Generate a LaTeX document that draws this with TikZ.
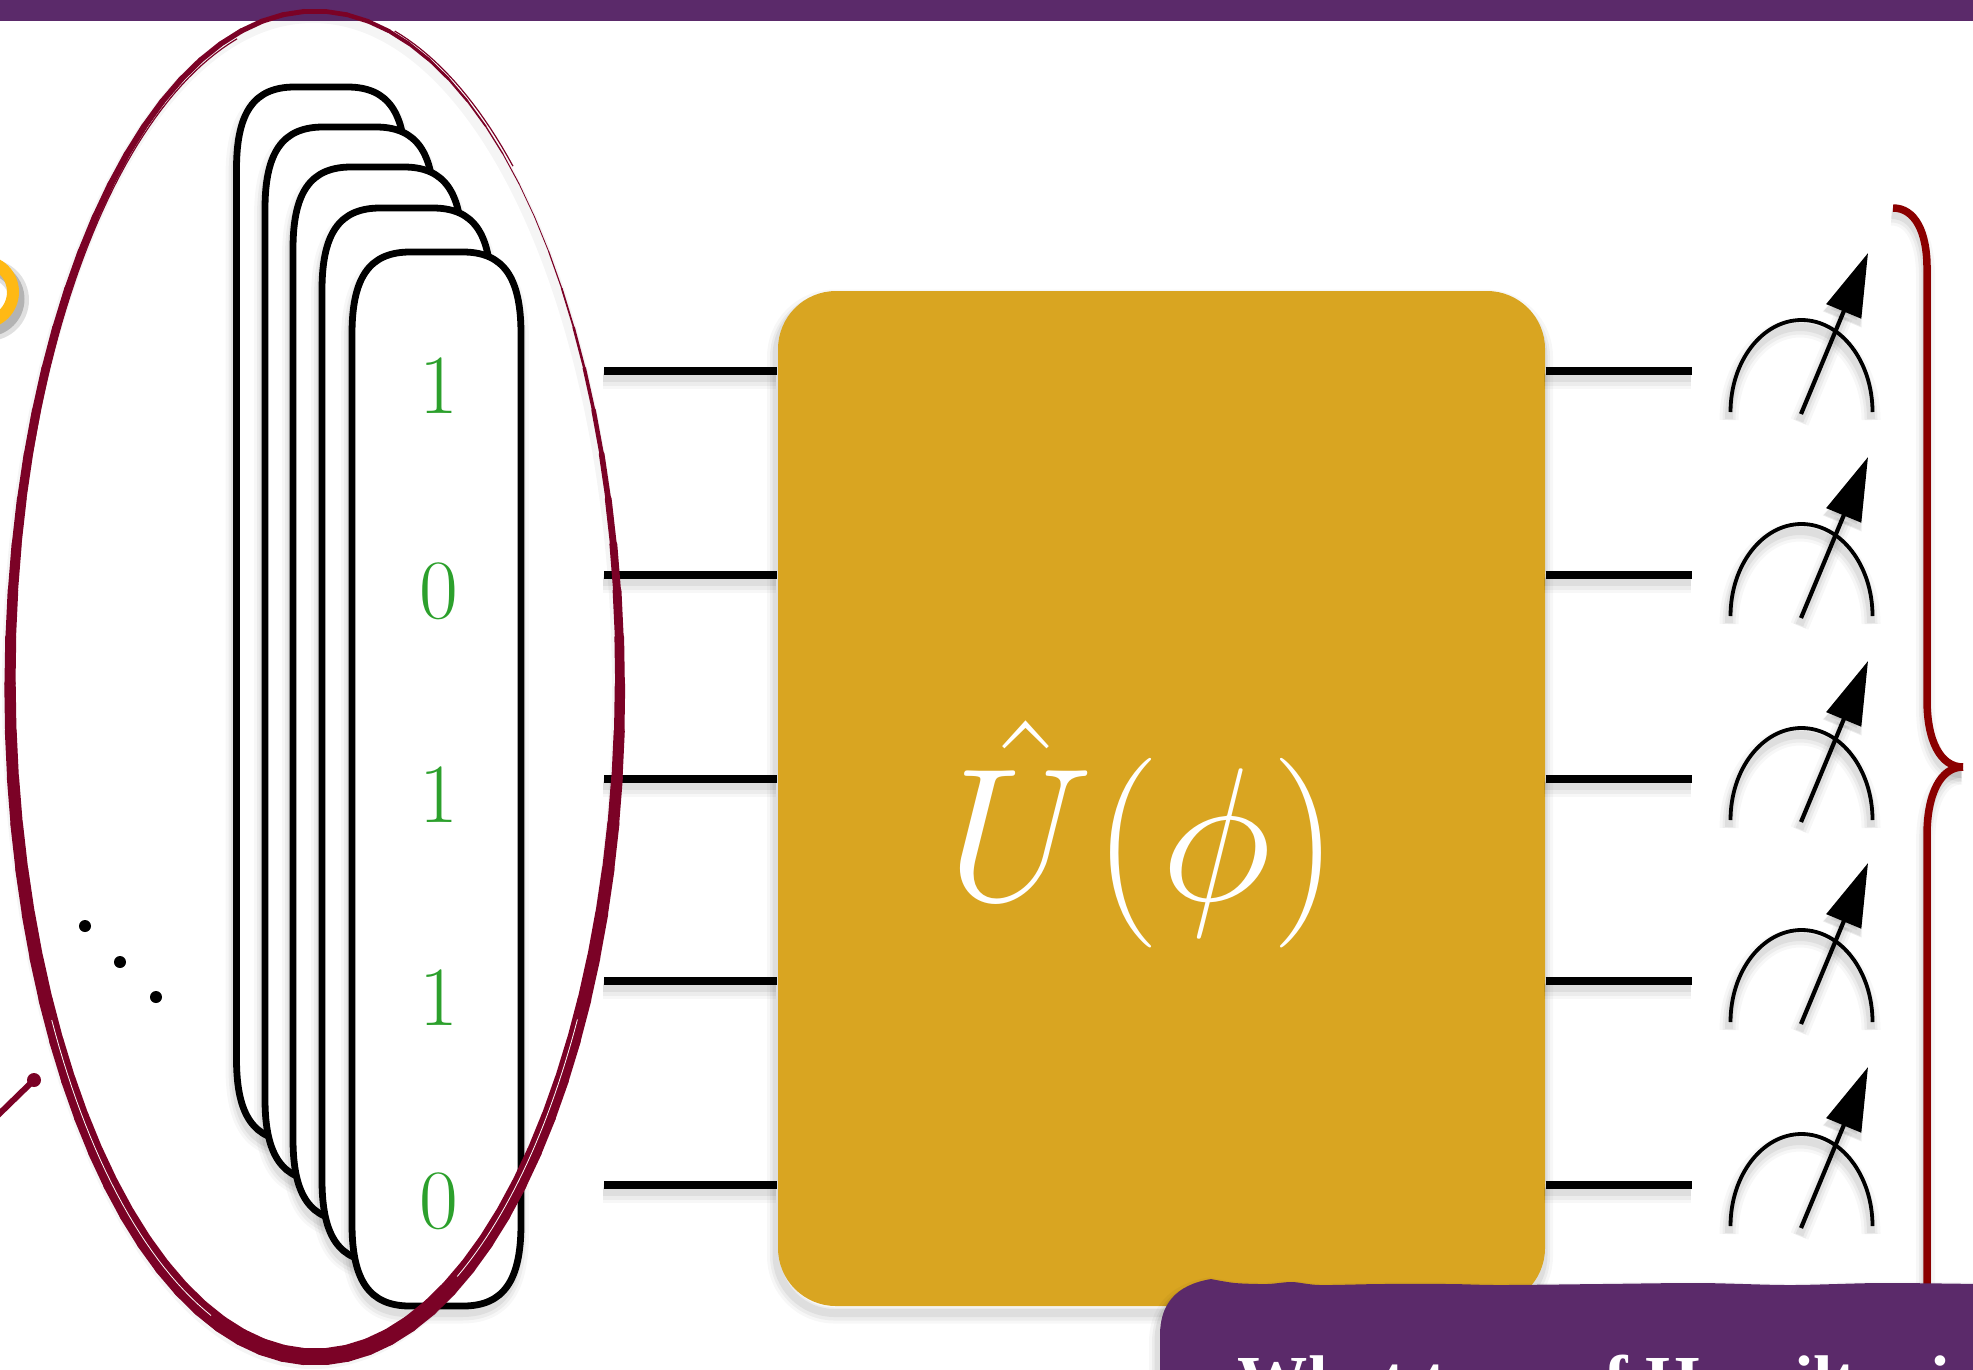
\documentclass[tikz,border=0pt]{standalone}
\usepackage{fix-cm}
\usepackage[no-math]{fontspec}
\newfontfamily\boxfont{Liberation Serif}
\usetikzlibrary{arrows.meta}
\definecolor{bandpurple}{HTML}{5B2A6A}
\definecolor{gategold}{HTML}{D9A521}
\definecolor{digitgreen}{HTML}{2CA02C}
\definecolor{bracered}{HTML}{8B0000}
\definecolor{brushred}{HTML}{7B0226}
\definecolor{ringyellow}{HTML}{FFB914}
\tikzset{
  softline/.style={
    preaction={draw=black,opacity=.03,line width=1.9mm,transform canvas={xshift=-.15mm,yshift=-.8mm}},
    preaction={draw=black,opacity=.045,line width=1.3mm,transform canvas={xshift=-.15mm,yshift=-.8mm}},
    preaction={draw=black,opacity=.06,line width=.8mm,transform canvas={xshift=-.15mm,yshift=-.7mm}}},
  cardbox/.style={draw=black,line width=.68mm,fill=white,softline},
  wire/.style={line width=.72mm,softline},
  dial/.style={line width=.38mm,softline},
  digit/.style={text=digitgreen,font=\fontsize{24}{28}\selectfont,inner sep=0pt}
}
\begin{document}
\begin{tikzpicture}[x=.1mm,y=-.1mm]
  \useasboundingbox (0,0) rectangle (1973,1369);
  \clip (0,0) rectangle (1973,1369);
  \fill[bandpurple] (0,0) rectangle (1973,21);

  % yellow ring, mostly off the page
  \draw[black,opacity=.12,line width=2mm] (-12,300) circle (31);
  \draw[black,opacity=.2,line width=1.3mm] (-13,299) circle (31);
  \draw[ringyellow,line width=1.2mm] (-18,292) circle (31);

  % stacked cards
  \foreach \x/\y in {236.5/87,265/127,293/167,322/208,352/252}
    \draw[cardbox] (\x,\y+82) .. controls (\x,\y+26) and (\x+17,\y) .. (\x+58,\y) -- (\x+111,\y)
      .. controls (\x+152,\y) and (\x+169,\y+26) .. (\x+169,\y+82) -- (\x+169,\y+972)
      .. controls (\x+169,\y+1028) and (\x+152,\y+1054) .. (\x+111,\y+1054) -- (\x+58,\y+1054)
      .. controls (\x+17,\y+1054) and (\x,\y+1028) .. (\x,\y+972) -- cycle;

  \foreach \y/\t [count=\i] in {386/1,591/0,795/1,998/1,1201/0}
    \node[digit] (bit\i) at (439,\y) {\t};

  % input and output wires, gate on top
  \node[fill=gategold,rounded corners=.58cm,minimum width=7.67cm,minimum height=10.15cm,inner sep=0pt,softline]
    (gate) at (1161.5,798.5) {};
  \foreach \y [count=\i] in {371,575,779,981,1185} {
    \coordinate (in\i) at (604,\y);
    \coordinate (out\i) at (1692,\y);
    \draw[wire] (in\i) -- (in\i -| gate.west);
    \draw[wire] (out\i -| gate.east) -- (out\i);
    \coordinate (base\i) at (1801,\y+43);
    \coordinate (tip\i) at (1868,\y-118);
    \draw[dial] (1730.5,\y+41) arc (180:360:71 and 92);
    \draw[-{Triangle[length=18pt,width=10.5pt]},line width=.42mm,softline] (base\i) -- (tip\i);
  }
  \node[text=white,anchor=base,inner sep=0pt,font=\fontsize{54}{60}\selectfont] (ulabel) at (1143,900) {$\hat U(\phi)$};

  % brace
  \draw[bracered,line width=.75mm,softline] (1893,208) .. controls (1915,208) and (1927,232) .. (1927,268)
    -- (1927,700) .. controls (1927,740) and (1940,767) .. (1963,767);
  \draw[bracered,line width=.75mm,softline] (1963,767) .. controls (1940,767) and (1927,795) .. (1927,835)
    -- (1927,1300);

  % dots
  \foreach \x/\y in {85/926,120/962,156/997}
    \fill (\x,\y) circle (6);

  \draw[brushred,line width=.6mm,line cap=round] (-5,1118) -- (34,1080);
  \fill[brushred] (34,1080) circle (7);

  % hand drawn loop
  \draw[black,opacity=.04,line width=1.2mm] (313,690) ellipse (305 and 673);
  \foreach \a [evaluate=\a as \w using {11+6*sin(\a)-6*max(0,cos(\a-318))^8}] in {0,4,...,356}
    \draw[brushred,line width=\w*.1mm,line cap=round]
      ({315+305*cos(\a)},{684+673*sin(\a)}) -- ({315+305*cos(\a+4)},{684+673*sin(\a+4)});
  \draw[brushred,line width=.12mm] plot[domain=200:255,samples=40] ({315+301*cos(\x)},{684+668*sin(\x)});
  \draw[brushred,line width=.12mm] plot[domain=285:310,samples=20] ({315+308*cos(\x)},{684+676*sin(\x)});
  \draw[white,line width=.08mm] plot[domain=110:150,samples=30] ({315+304*cos(\x)},{684+672*sin(\x)});
  \draw[white,line width=.08mm] plot[domain=30:62,samples=30] ({315+303*cos(\x)},{684+671*sin(\x)});

  % question box, runs off the page
  \fill[bandpurple,softline] (1160,1380) -- (1160,1335) .. controls (1160,1305) and (1175,1285) .. (1211,1279)
    -- plot[smooth] coordinates {(1211,1279) (1235,1283) (1267,1284) (1292,1282) (1320,1285) (1380,1284) (1450,1284)
      (1500,1285) (1600,1284) (1700,1283) (1790,1285) (1880,1283) (1980,1284)} -- (1980,1380) -- cycle;
  \node[text=white,anchor=base west,inner sep=0pt,font=\boxfont\bfseries\fontsize{20}{24}\selectfont]
    (question) at (1237,1404) {What type of Hamiltonian};
\end{tikzpicture}
\end{document}
